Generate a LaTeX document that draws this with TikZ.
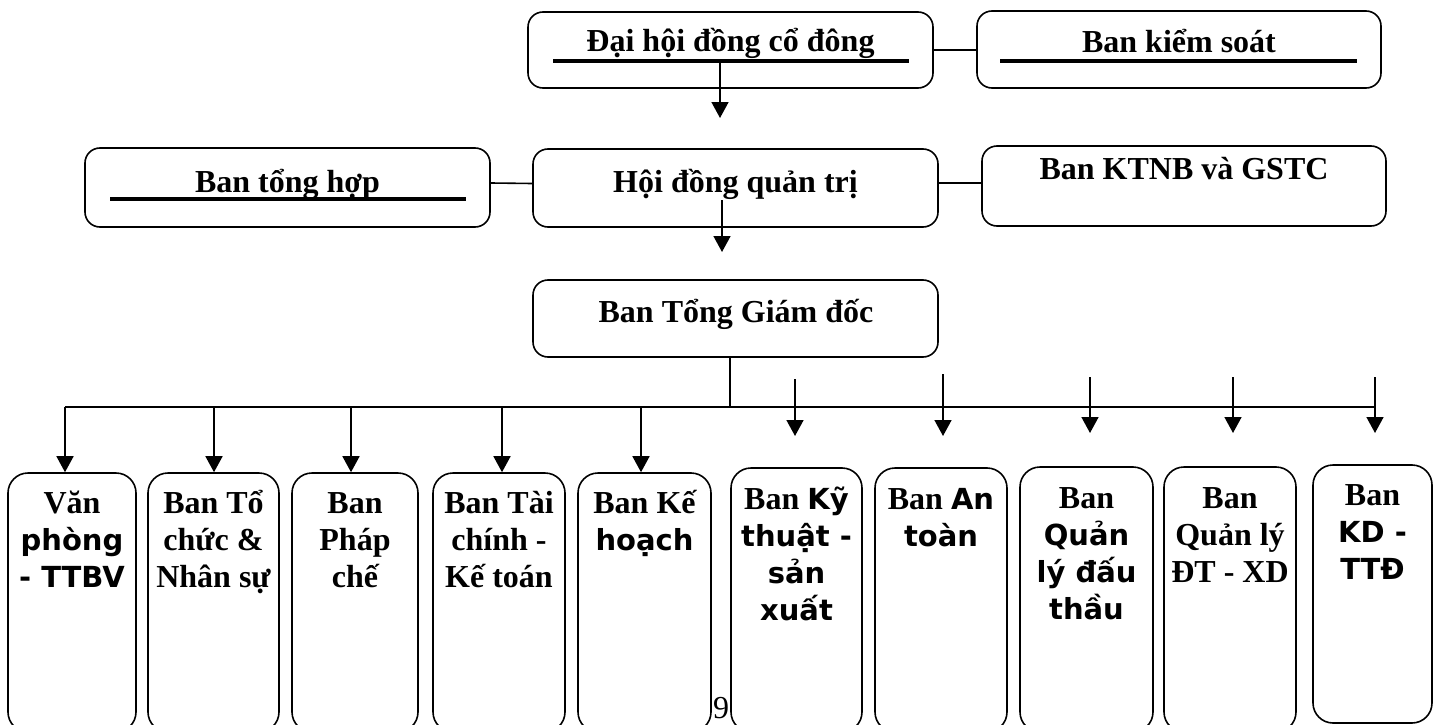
\documentclass[tikz,border=0pt]{standalone}
\usepackage{fontspec}
\setmainfont{Liberation Serif}
\newfontfamily\dvsfam{DejaVu Sans}
\usetikzlibrary{arrows.meta}
\newcommand\dvs{\dvsfam\bfseries\fontsize{29}{37}\selectfont}
\newcommand\lstack[1]{\vtop{\baselineskip=37pt\lineskiplimit=-100pt\lineskip=0pt\halign{\hfil##\hfil\cr#1\crcr}}}
\begin{document}
\begin{tikzpicture}[x=1pt,y=-1pt,
  box/.style={draw, line width=1.6pt, rounded corners=15pt, inner sep=0pt},
  dbox/.style={draw, line width=1.6pt, rounded corners=20pt, inner sep=0pt},
  ttl/.style={anchor=base, inner sep=0pt, font=\bfseries\fontsize{32}{37}\selectfont},
  conn/.style={line width=1.6pt},
  arr/.style={line width=1.6pt, -{Triangle[width=17pt,length=16pt]}},
  uline/.style={line width=3.5pt}]
\useasboundingbox (0,0) rectangle (1438,725);

% top boxes
\node[box, minimum width=405pt, minimum height=76pt] (dhdcd) at (730.5,50) {};
\node[box, minimum width=404pt, minimum height=77pt] (bks) at (1179,49.5) {};
\node[box, minimum width=405pt, minimum height=79pt] (tonghop) at (287.5,187.5) {};
\node[box, minimum width=405pt, minimum height=78pt] (hdqt) at (735.5,188) {};
\node[box, minimum width=404pt, minimum height=80pt] (ktnb) at (1184,186) {};
\node[box, minimum width=405pt, minimum height=77pt] (btgd) at (735.5,318.5) {};

\node[ttl] (dhdcdT) at (730.5,52) {Đại hội đồng cổ đông};
\node[ttl] (bksT) at (1179,53) {Ban kiểm soát};
\node[ttl] (tonghopT) at (287.5,192) {Ban tổng hợp};
\node[ttl] (hdqtT) at (735.5,192) {Hội đồng quản trị};
\node[ttl] (ktnbT) at (1184,179) {Ban KTNB và GSTC};
\node[ttl] (btgdT) at (736,322) {Ban Tổng Giám đốc};

% underlines
\draw[uline] (553,61) -- (909,61);
\draw[uline] (1000,61) -- (1357,61);
\draw[uline] (110,199) -- (466,199);

% horizontal connectors
\draw[conn] (dhdcd.east) -- (dhdcd.east -| bks.west);
\draw[conn] ([yshift=4.5pt]tonghop.east) -- ([yshift=4.5pt]hdqt.west);
\draw[conn] ([yshift=5pt]hdqt.east) -- ([yshift=5pt]hdqt.east -| ktnb.west);

% vertical arrows top
\coordinate (a1s) at (720,61);
\coordinate (a1e) at (720,118);
\draw[arr] (a1s) -- (a1e);
\coordinate (a2s) at (722,200);
\coordinate (a2e) at (722,252);
\draw[arr] (a2s) -- (a2e);

% bottom boxes
\node[dbox, minimum width=128pt, minimum height=259pt] (d1) at (72,602.5) {};
\node[dbox, minimum width=131pt, minimum height=259pt] (d2) at (213.5,602.5) {};
\node[dbox, minimum width=126pt, minimum height=259pt] (d3) at (355,602.5) {};
\node[dbox, minimum width=132pt, minimum height=259pt] (d4) at (499,602.5) {};
\node[dbox, minimum width=133pt, minimum height=259pt] (d5) at (644.5,602.5) {};
\node[dbox, minimum width=131pt, minimum height=264pt] (d6) at (796.5,600) {};
\node[dbox, minimum width=132pt, minimum height=264pt] (d7) at (941,600) {};
\node[dbox, minimum width=133pt, minimum height=265pt] (d8) at (1086.5,599.5) {};
\node[dbox, minimum width=132pt, minimum height=265pt] (d9) at (1230,599.5) {};
\node[dbox, minimum width=119pt, minimum height=258pt] (d10) at (1372.5,594) {};

\node[ttl] (t1) at (72,513) {\lstack{Văn\cr\dvs phòng\cr\dvs - TTBV}};
\node[ttl] (t2) at (213.5,513) {\lstack{Ban Tổ\cr chức \&\cr Nhân sự}};
\node[ttl] (t3) at (355,513) {\lstack{Ban\cr Pháp\cr chế}};
\node[ttl] (t4) at (499,513) {\lstack{Ban Tài\cr chính -\cr Kế toán}};
\node[ttl] (t5) at (644.5,513) {\lstack{Ban Kế\cr\dvs hoạch}};
\node[ttl] (t6) at (796.5,509) {\lstack{Ban \dvs Kỹ\cr\dvs thuật -\cr\dvs sản\cr\dvs xuất}};
\node[ttl] (t7) at (941,509) {\lstack{Ban \dvs An\cr\dvs toàn}};
\node[ttl] (t8) at (1086.5,508) {\lstack{Ban\cr\dvs Quản\cr\dvs lý đấu\cr\dvs thầu}};
\node[ttl] (t9) at (1230,508) {\lstack{Ban\cr Quản lý\cr ĐT - XD}};
\node[ttl] (t10) at (1372.5,505) {\lstack{Ban\cr\dvs KD -\cr\dvs TTĐ}};

% bus
\coordinate (busL) at (65,407);
\coordinate (busR) at (1375,407);
\coordinate (busM) at (730,407);
\draw[conn] (busL) -- (busR);
\draw[conn] (busM |- btgd.south) -- (busM);

\coordinate (j1) at (65,407);
\coordinate (j2) at (214,407);
\coordinate (j3) at (351,407);
\coordinate (j4) at (502,407);
\coordinate (j5) at (641,407);
\draw[arr] (j1) -- (j1 |- d1.north);
\draw[arr] (j2) -- (j2 |- d2.north);
\draw[arr] (j3) -- (j3 |- d3.north);
\draw[arr] (j4) -- (j4 |- d4.north);
\draw[arr] (j5) -- (j5 |- d5.north);

\coordinate (s6) at (795,379);  \coordinate (e6) at (795,436);
\coordinate (s7) at (943,374);  \coordinate (e7) at (943,436);
\coordinate (s8) at (1090,377); \coordinate (e8) at (1090,433);
\coordinate (s9) at (1233,377); \coordinate (e9) at (1233,433);
\coordinate (s10) at (1375,377); \coordinate (e10) at (1375,433);
\draw[arr] (s6) -- (e6);
\draw[arr] (s7) -- (e7);
\draw[arr] (s8) -- (e8);
\draw[arr] (s9) -- (e9);
\draw[arr] (s10) -- (e10);

\node[anchor=base, inner sep=0pt, font=\fontsize{32}{37}\selectfont] (pg) at (721,718) {9};
\end{tikzpicture}
\end{document}
